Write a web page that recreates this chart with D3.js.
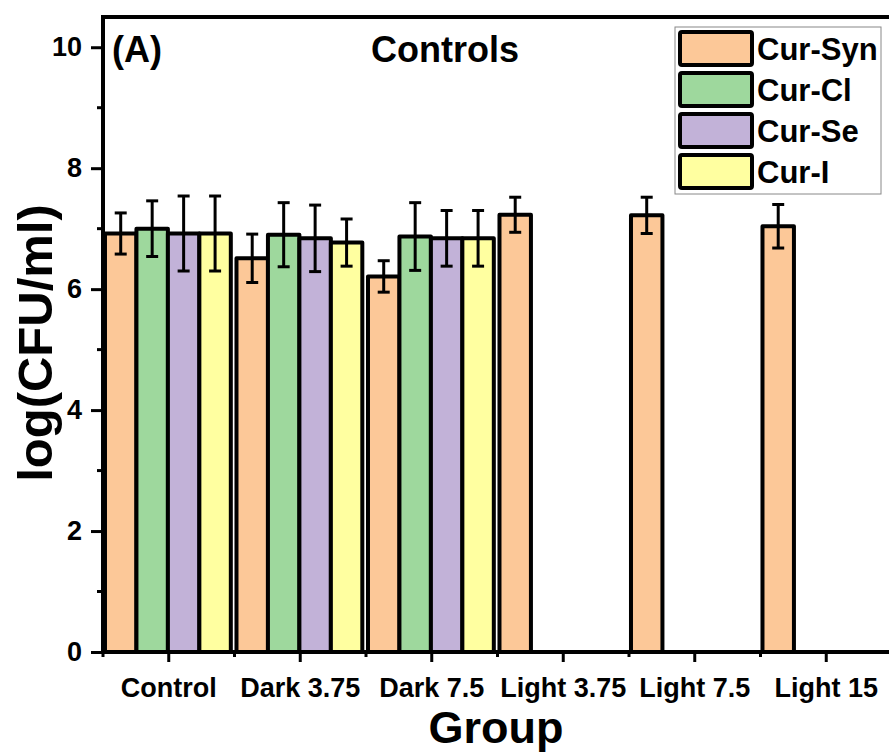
<!DOCTYPE html>
<html>
<head>
<meta charset="utf-8">
<script src="https://cdn.jsdelivr.net/npm/d3@7"></script>
<style>
  html, body { margin: 0; padding: 0; background: #fff; }
  svg { display: block; font-family: "Liberation Sans", Arial, sans-serif; font-weight: bold; }
</style>
</head>
<body>
<svg id="chart" width="889" height="754"></svg>
<script>
// Treatment groups along the x axis
const groups = ["Control", "Dark 3.75", "Dark 7.5", "Light 3.75", "Light 7.5", "Light 15"];
// Formulations (legend entries)
const seriesNames = ["Cur-Syn", "Cur-Cl", "Cur-Se", "Cur-I"];
const seriesColors = ["#FCC898", "#9ED89D", "#C2B2D8", "#FFFFA0"];
// Mean log(CFU/ml) per group for each formulation (null = not measured)
const curSyn = [6.92, 6.51, 6.21, 7.23, 7.22, 7.04];
const curCl  = [7.00, 6.90, 6.87, null, null, null];
const curSe  = [6.92, 6.84, 6.84, null, null, null];
const curI   = [6.92, 6.77, 6.84, null, null, null];
// Standard deviations
const sdSyn = [0.34, 0.40, 0.26, 0.29, 0.30, 0.36];
const sdCl  = [0.46, 0.53, 0.56, null, null, null];
const sdSe  = [0.62, 0.55, 0.46, null, null, null];
const sdI   = [0.62, 0.39, 0.46, null, null, null];
const yTicks = [0, 2, 4, 6, 8, 10];
const yMinor = [1, 3, 5, 7, 9];

const means = [curSyn, curCl, curSe, curI];
const sds = [sdSyn, sdCl, sdSe, sdI];

const svg = d3.select("#chart");
const mLeft = 103, mRight = 892, mTop = 17, mBottom = 652;

const x0 = d3.scaleBand().domain(groups).range([mLeft, mRight]).padding(0);
const x1 = d3.scaleBand().domain(seriesNames).range([0, x0.bandwidth()])
  .paddingInner(0).paddingOuter(0.09).align(0.35);
const y = d3.scaleLinear().domain([0, 10.5]).range([mBottom, mTop]);

const bars = [];
seriesNames.forEach((s, si) => {
  groups.forEach((g, gi) => {
    const v = means[si][gi];
    if (v != null) bars.push({ s, si, g, v, sd: sds[si][gi] });
  });
});

// Bars
svg.append("g").selectAll("rect").data(bars).join("rect")
  .attr("x", d => x0(d.g) + x1(d.s))
  .attr("y", d => y(d.v))
  .attr("width", x1.bandwidth())
  .attr("height", d => y(0) - y(d.v))
  .attr("fill", d => seriesColors[d.si])
  .attr("stroke", "#000")
  .attr("stroke-width", 4)
  .attr("stroke-linejoin", "round");

// Error bars
const eb = svg.append("g").attr("stroke", "#000").attr("stroke-width", 3);
bars.forEach(d => {
  const cx = x0(d.g) + x1(d.s) + x1.bandwidth() / 2;
  const yt = y(d.v + d.sd), yb = y(d.v - d.sd);
  eb.append("line").attr("x1", cx).attr("x2", cx).attr("y1", yt).attr("y2", yb);
  eb.append("line").attr("x1", cx - 6).attr("x2", cx + 6).attr("y1", yt).attr("y2", yt);
  eb.append("line").attr("x1", cx - 6).attr("x2", cx + 6).attr("y1", yb).attr("y2", yb);
});

// Frame: top border, left and bottom axes
svg.append("line").attr("x1", mLeft).attr("x2", mRight).attr("y1", mTop).attr("y2", mTop)
  .attr("stroke", "#000").attr("stroke-width", 4);

// Y axis
const yAxis = svg.append("g").attr("transform", `translate(${mLeft},0)`)
  .call(d3.axisLeft(y).tickValues(yTicks).tickSize(12).tickPadding(9).tickFormat(d3.format("d")));
yAxis.select(".domain").attr("stroke-width", 4).attr("d", `M0,${mBottom + 2}V${mTop - 2}`);
yAxis.selectAll(".tick line").attr("stroke-width", 3);
yAxis.selectAll(".tick text").attr("font-size", 27).attr("font-family", null).attr("fill", "#000");
yAxis.selectAll(".minor").data(yMinor).join("line").attr("class", "minor")
  .attr("x1", -6).attr("x2", 0).attr("y1", d => y(d)).attr("y2", d => y(d))
  .attr("stroke", "#000").attr("stroke-width", 3);

// X axis
const xAxis = svg.append("g").attr("transform", `translate(0,${mBottom})`)
  .call(d3.axisBottom(x0).tickSize(10).tickPadding(16));
xAxis.select(".domain").attr("stroke-width", 4).attr("d", `M${mLeft - 2},0H${mRight}`);
xAxis.selectAll(".tick line").attr("stroke-width", 3);
xAxis.selectAll(".tick text").attr("font-size", 27).attr("font-family", null).attr("fill", "#000");
xAxis.selectAll(".minor").data(groups).join("line").attr("class", "minor")
  .attr("x1", d => x0(d)).attr("x2", d => x0(d)).attr("y1", 0).attr("y2", 5)
  .attr("stroke", "#000").attr("stroke-width", 3);

// Axis titles
svg.append("text").attr("x", 496).attr("y", 743).attr("text-anchor", "middle")
  .attr("font-size", 45).text("Group");
svg.append("text").attr("transform", "translate(52,343) rotate(-90)").attr("text-anchor", "middle")
  .attr("font-size", 49).text("log(CFU/ml)");

// Panel label and title
svg.append("text").attr("x", 112).attr("y", 62).attr("font-size", 36).text("(A)");
svg.append("text").attr("x", 445).attr("y", 62).attr("text-anchor", "middle")
  .attr("font-size", 36).text("Controls");

// Legend
const lg = svg.append("g");
lg.append("rect").attr("x", 675).attr("y", 27).attr("width", 206).attr("height", 167)
  .attr("fill", "#fff").attr("stroke", "#888").attr("stroke-width", 1);
const items = lg.selectAll("g.item").data(seriesNames).join("g").attr("class", "item")
  .attr("transform", (d, i) => `translate(680,${32 + i * 41})`);
items.append("rect").attr("width", 72).attr("height", 33).attr("rx", 2)
  .attr("fill", (d, i) => seriesColors[i]).attr("stroke", "#000").attr("stroke-width", 4);
items.append("text").attr("x", 77).attr("y", 28).attr("font-size", 31).text(d => d);
</script>
</body>
</html>
